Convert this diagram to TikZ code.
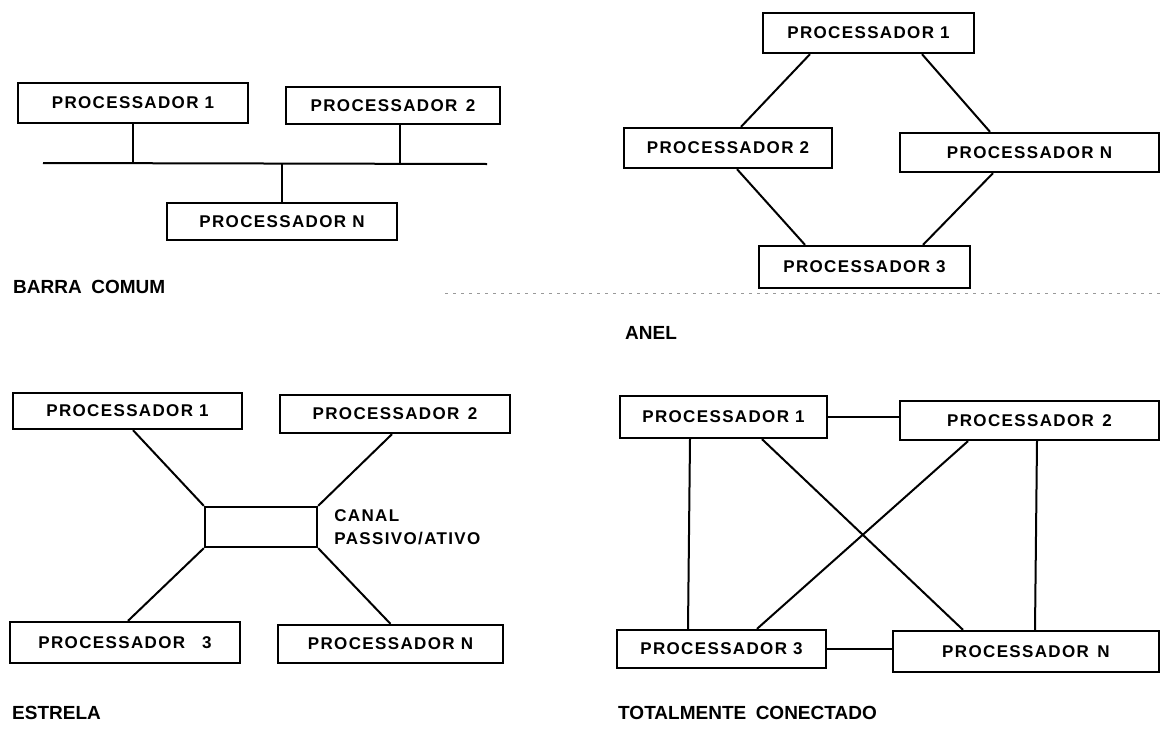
\documentclass[tikz,border=0pt]{standalone}
\usepackage{fontspec}
\setmainfont{Liberation Sans}
\newfontfamily\boxfont[LetterSpace=8]{Liberation Sans}
\usetikzlibrary{positioning}

\begin{document}
\begin{tikzpicture}[
  x=1pt, y=-1pt,
  proc/.style={draw, line width=2.3pt, inner sep=0pt,
    font=\boxfont\bfseries\fontsize{17}{20}\selectfont},
  link/.style={line width=2pt},
  title/.style={anchor=west, inner sep=0pt,
    font=\bfseries\fontsize{19}{22}\selectfont},
]
\useasboundingbox (0,0) rectangle (1162,731);
\providecommand{\procbox}[6]{%
  \node[proc, minimum width=#4-#2, minimum height=#5-#3]
    (#1) at ({(#2+#4)/2},{(#3+#5)/2}) {#6};
}
% faint rule left by the scan
\draw[black!40, line width=1pt, dash pattern=on 3pt off 5pt]
  (445,293) -- (1160,293);

% barra comum
\procbox{b1}{18}{83}{248}{123}{PROCESSADOR 1}
\procbox{b2}{286}{87}{500}{124}{PROCESSADOR\enspace 2}
\procbox{bN}{167}{203}{397}{240}{PROCESSADOR N}
\coordinate (busL) at (43,163);
\coordinate (busR) at (487,164);
\draw[link] (busL) -- (busR);
\draw[link] (b1.south) -- (b1.south |- busL);
\draw[link] ([xshift=7pt]b2.south) -- ([xshift=7pt]b2.south |- busL);
\draw[link] (bN.north) -- (bN.north |- busL);
\node[title] (tbarra) at (13,287) {BARRA\enspace COMUM};

% anel
\procbox{a1}{763}{13}{974}{53}{PROCESSADOR 1}
\procbox{a2}{624}{128}{832}{168}{PROCESSADOR 2}
\procbox{aN}{900}{133}{1159}{172}{PROCESSADOR N}
\procbox{a3}{759}{246}{970}{288}{PROCESSADOR 3}
\draw[link] ([xshift=-58.5pt]a1.south) -- ([xshift=13pt]a2.north);
\draw[link] ([xshift=53.5pt]a1.south) -- ([xshift=-39.5pt]aN.north);
\draw[link] ([xshift=9pt]a2.south) -- ([xshift=-59.5pt]a3.north);
\draw[link] ([xshift=-36.5pt]aN.south) -- ([xshift=58.5pt]a3.north);
\node[title] (tanel) at (625,333) {ANEL};

% estrela
\procbox{e1}{13}{393}{242}{429}{PROCESSADOR 1}
\procbox{e2}{280}{395}{510}{433}{PROCESSADOR\enspace 2}
\procbox{e3}{10}{622}{240}{663}{PROCESSADOR\enspace\enspace 3}
\procbox{eN}{278}{625}{503}{663}{PROCESSADOR N}
\node[draw, line width=2.3pt, minimum width=112pt, minimum height=40pt,
  inner sep=0pt] (ch) at (261,527) {};
\node[right=16pt of ch, inner sep=0pt, align=left,
  font=\boxfont\bfseries\fontsize{17}{23}\selectfont] (chlbl)
  {CANAL\\PASSIVO/ATIVO};
\draw[link] ([xshift=5.5pt]e1.south) -- (ch.north west);
\draw[link] ([xshift=-3pt]e2.south) -- (ch.north east);
\draw[link] (ch.south west) -- ([xshift=3pt]e3.north);
\draw[link] (ch.south east) -- (eN.north);
\node[title] (testrela) at (12,713) {ESTRELA};

% totalmente conectado
\procbox{t1}{620}{396}{827}{438}{PROCESSADOR 1}
\procbox{t2}{900}{401}{1159}{440}{PROCESSADOR\enspace 2}
\procbox{t3}{617}{630}{826}{668}{PROCESSADOR 3}
\procbox{tN}{893}{631}{1159}{672}{PROCESSADOR\enspace N}
\draw[link] (t1.east) -- (t1.east -| t2.west);
\draw[link] (t3.east) -- (t3.east -| tN.west);
\draw[link] ([xshift=-33.5pt]t1.south) -- ([xshift=-33.5pt]t3.north);
\draw[link] ([xshift=7.5pt]t2.south) -- ([xshift=9pt]tN.north);
\draw[link] ([xshift=38.5pt]t1.south) -- ([xshift=-63pt]tN.north);
\draw[link] ([xshift=-61.5pt]t2.south) -- ([xshift=35.5pt]t3.north);
\node[title] (ttotal) at (618,713) {TOTALMENTE\enspace CONECTADO};
\end{tikzpicture}
\end{document}
